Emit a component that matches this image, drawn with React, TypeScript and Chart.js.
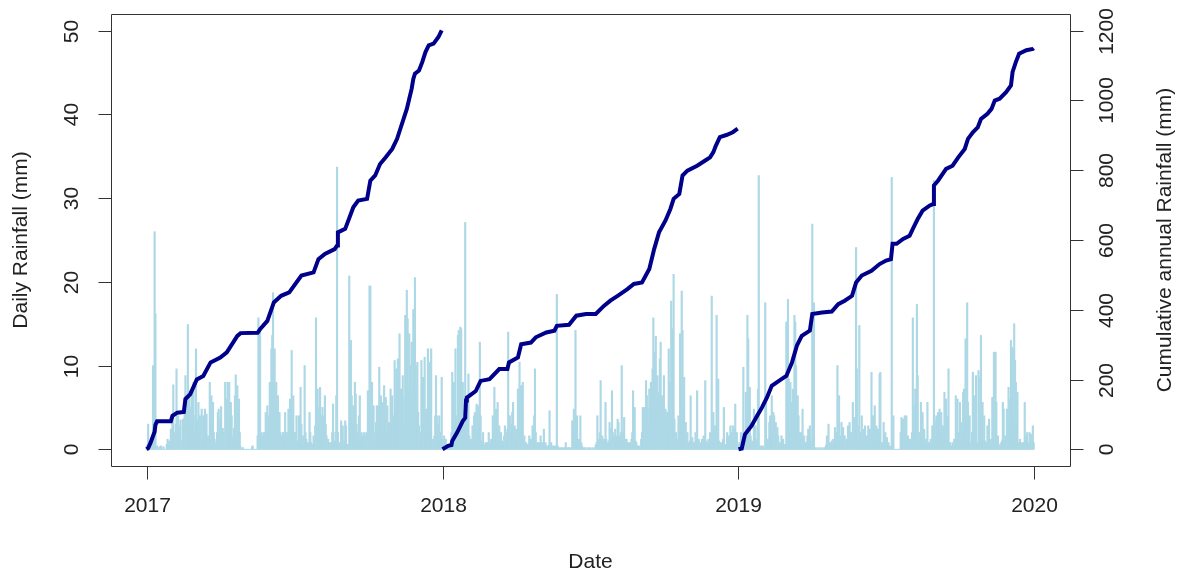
import React, { useEffect, useRef } from "react";
import { Chart, registerables } from "chart.js";

Chart.register(...registerables);

// Daily rainfall (mm), one value per day, Jan 1 .. Dec 31
const rain2017 = [
  0.3,0.5,3.0,0,0.2,0,0.4,1.2,10.0,0,26.0,16.2,0,0.4,0,0,0.3,0,0.4,0,0,0.3,0,0,0,0.6,1.2,0.5,1.0,0,2.4,
  0.8,3.5,7.7,2.0,1.2,3.0,9.6,2.5,4.0,1.5,2.8,3.5,1.0,0.5,3.6,3.6,6.0,8.8,5.5,3.2,14.9,4.0,7.0,2.5,5.0,7.2,3.0,8.0,
  2.0,4.0,12.0,2.0,3.5,5.6,1.5,4.0,2.0,4.8,1.0,4.0,2.5,4.8,1.0,4.2,0.8,1.6,0.5,8.0,3.0,6.4,1.5,5.6,2.0,1.2,0.5,0.8,2.0,4.4,4.8,
  1.0,3.6,5.1,0.8,2.5,2.0,0.5,8.0,6.0,1.0,8.0,4.0,8.0,2.0,5.6,4.0,0.8,1.6,2.5,6.4,8.9,1.0,7.6,2.0,6.0,2.0,0.3,0,0,0.2,
  0,0,0,0,0,0,0,0,0,0,0.3,0.4,0,0,0,0,0,1.6,15.7,10.4,14.0,1.0,2.0,1.6,0.5,2.0,1.0,4.4,2.0,5.2,4.0,
  2.5,8.0,3.0,12.0,13.6,18.7,10.0,12.0,5.0,8.0,3.0,6.4,1.0,4.4,2.0,1.6,0.5,2.0,1.0,2.0,4.4,1.0,2.0,0.8,4.8,2.0,6.0,1.0,11.8,3.0,
  6.4,1.0,2.0,0.5,4.0,1.0,0.8,4.0,2.5,7.4,3.0,1.0,1.6,0.5,10.0,2.0,1.2,0.5,0.8,0.4,4.4,2.0,0.8,0.6,0.3,1.6,0.8,2.8,15.7,4.0,7.2,
  3.0,5.0,7.4,4.0,2.0,5.0,4.0,1.5,6.4,3.0,1.6,0.8,1.2,0.5,0.8,0.3,0.8,2.0,5.4,1.0,0.8,2.0,6.4,33.7,2.0,0.8,0.5,0.8,3.4,1.0,2.8,
  0.5,1.0,3.4,2.8,0.5,0.6,0,20.7,5.0,13.0,6.4,3.0,5.2,4.0,8.0,6.6,3.0,1.0,2.0,4.0,6.4,1.0,2.0,1.6,1.0,2.0,1.6,0.8,2.0,1.0,
  7.0,3.0,19.5,19.5,4.0,8.0,2.0,5.2,1.0,2.0,3.2,5.2,2.0,5.2,9.8,2.0,6.4,3.0,5.6,2.0,7.6,3.0,6.2,2.0,5.2,1.0,3.2,2.0,7.2,3.0,6.4,
  4.0,2.0,10.6,5.0,9.6,4.0,10.8,6.0,13.8,3.0,7.2,5.0,8.8,6.0,3.0,16.0,9.0,19.0,15.6,7.0,13.8,5.0,10.0,12.8,6.0,16.7,8.4,20.5,10.0,4.0,
  10.4,4.4,2.8,1.0,2.0,10.6,5.0,8.6,3.0,11.0,2.5,4.8,1.0,12.0,4.0,10.4,2.0,12.0,1.0,1.2,0.5,1.6,4.0,8.8,4.0,2.0,3.0,4.0,2.0,1.0,8.6,
];

const rain2018 = [
  1.2,0.8,1.6,0.5,1.2,0.3,0.4,0.2,0.4,0.3,0.4,2.0,9.2,3.0,8.0,2.0,12.0,4.0,1.2,13.6,14.2,8.0,14.6,14.4,6.0,8.0,3.0,2.6,27.1,5.0,4.0,
  1.0,9.0,1.6,0.5,1.2,0.6,2.8,1.0,4.0,4.4,1.5,5.4,2.0,5.2,3.0,12.8,4.0,1.0,0.8,2.0,0.5,0.4,0.8,0.3,0.8,0.4,2.0,0.5,
  0.8,1.2,0.5,4.0,2.0,7.4,2.5,4.8,1.5,5.6,1.0,2.8,0.5,2.0,0.4,1.0,0.6,1.6,2.8,2.0,1.0,2.4,14.0,2.0,4.0,1.5,3.0,4.4,5.6,1.0,2.8,
  1.0,2.4,0.8,7.2,3.0,10.4,3.0,7.6,2.0,8.0,1.0,1.6,0.4,0.8,0.2,0.6,0.3,1.6,0.5,1.2,0.4,2.8,1.0,4.0,9.6,2.0,0.5,0.8,0.3,0.8,
  0.4,1.6,0.3,0.8,0.5,2.4,0.4,0.8,0.2,0.4,0.3,0.5,4.6,0.5,0.8,0.4,0.2,0.4,0.3,0.4,0.2,18.5,0.4,0,0.2,0,0.2,0,0.2,0,0.2,
  0,0.8,0,0.2,0,0.2,0,0.2,0,3.4,1.0,4.8,2.0,14.2,1.5,4.0,0.5,1.2,0.4,4.0,0.8,0.4,0,0.2,0,0.2,0,0,0.2,0,
  0,0.2,0,0,0.2,0,0,0.2,0.5,0.8,4.0,1.2,0.5,2.0,8.2,0.8,1.6,0.5,1.2,0.8,5.6,1.2,0.4,0.8,1.0,3.2,1.0,2.5,7.0,2.0,0.8,
  1.6,2.4,1.6,0.8,3.6,3.2,1.0,1.6,2.0,10.0,2.0,1.0,3.8,1.2,0.8,1.2,0.8,0.4,0.8,0.5,0.8,1.2,2.0,7.0,2.0,5.0,1.0,0.8,0.3,0.4,0.2,
  0.4,0.2,1.2,2.0,5.0,3.0,5.0,4.0,8.2,6.4,5.0,3.0,7.2,5.0,8.0,6.0,9.6,15.7,8.0,11.6,13.5,6.0,8.8,5.0,6.8,10.8,12.8,4.0,6.4,3.0,
  8.8,3.0,4.8,2.0,4.4,3.0,12.0,8.0,4.0,17.7,6.0,14.4,20.9,3.6,1.0,2.0,1.2,0.8,4.0,2.0,13.8,6.0,18.9,14.2,5.0,8.6,2.0,3.2,1.0,2.0,0.8,
  0.4,1.0,6.4,0.8,1.4,0.4,0.8,0.5,2.0,0.8,7.0,0.5,1.2,0.4,0.8,0.4,1.2,0.5,1.6,0.8,8.2,1.0,0.8,0.4,1.2,0.5,2.0,1.0,18.3,2.0,
  4.4,1.0,2.8,0.8,16.0,2.0,8.4,1.0,0.8,0.3,0.8,0.4,1.2,5.0,0.5,0.6,0.4,2.0,0.5,1.6,0.8,2.8,1.0,2.0,2.8,1.0,2.4,5.4,1.0,2.0,0.5,
];

const rain2019 = [
  0.2,0.8,0.4,2.0,0.8,0.5,9.8,1.0,0.5,6.8,2.0,16.0,13.2,3.0,7.4,1.6,0.5,1.0,0.4,4.8,1.0,2.8,1.2,0.5,7.2,32.7,0.4,0,0.4,0,0.4,
  0,0.2,17.5,6.4,1.0,1.2,0.5,3.2,4.0,1.5,6.4,2.0,4.4,4.0,1.0,3.2,1.5,2.6,1.6,0.5,0.8,0.3,1.6,0.5,1.2,0.4,0.6,0.3,
  15.2,3.0,17.9,8.4,2.0,8.0,3.0,5.6,7.2,2.0,16.0,15.2,10.0,2.0,6.4,4.0,1.0,2.0,0.5,2.0,4.8,0.5,1.6,0.4,0.8,0.5,1.6,2.4,0.8,2.8,1.2,
  0.5,26.9,1.0,17.5,0.2,0,0.2,0,0,0.2,0,0,0.2,0,0,0.2,0,0.2,0.5,1.6,0.4,3.0,0.5,0.8,0.3,1.0,0.5,1.2,0.6,2.6,
  0.8,2.0,10.0,1.5,6.4,0.8,1.6,3.2,0.8,2.6,0.5,1.6,0.4,1.2,0.8,2.8,1.0,3.2,0.8,2.0,1.0,5.6,1.2,3.8,1.0,24.1,9.6,2.8,1.0,14.8,2.0,
  1.0,4.0,0.8,2.4,1.0,2.8,0.5,1.6,0.8,2.8,1.0,2.4,1.0,9.2,2.0,4.0,1.0,5.2,1.2,2.8,0.8,2.4,1.0,9.0,9.2,0.8,0.4,0.8,3.2,0.8,
  2.0,0.5,1.4,0.3,0.8,0.2,0.4,0.2,32.5,1.0,4.0,0,0,0,0,0,0,0,0,2.0,3.8,1.5,3.6,2.0,4.0,1.0,4.0,0.8,1.6,0.5,1.2,
  0.5,1.2,2.0,15.7,2.0,5.2,7.2,3.0,17.3,8.8,1.0,2.0,1.0,5.6,1.5,4.4,1.0,2.4,0.5,1.2,0.5,5.6,0.8,0.8,0.3,1.2,0.5,2.8,1.0,32.1,3.4,
  1.0,4.0,1.5,4.4,1.0,4.8,2.0,4.4,1.0,2.8,1.2,6.8,2.0,6.0,1.0,4.0,9.6,0.5,0.8,0.4,0.3,0.8,0.4,1.2,0.5,6.4,2.0,6.0,2.0,1.0,
  5.6,1.0,3.2,1.5,6.8,7.2,2.0,13.2,4.0,17.5,5.6,1.0,4.0,0.5,0.8,2.0,9.2,1.0,6.4,2.0,8.8,0.8,0.4,9.4,2.0,8.6,13.6,3.0,5.6,1.0,4.0,
  1.0,0.8,0.4,2.8,1.0,3.6,1.0,1.2,0.5,6.2,2.0,11.6,3.0,11.6,5.6,1.0,1.6,0.6,0.3,0.4,0.8,1.0,5.6,4.8,1.0,1.6,0.5,4.8,2.0,7.4,
  3.0,6.0,13.0,12.2,12.0,4.0,15.0,10.6,8.0,3.0,6.8,0.8,0.4,1.2,0.4,0.8,0.3,0.8,0.5,5.6,1.0,1.6,2.0,0.5,0.8,2.0,0.5,1.8,1.0,2.8,0.8,
];

// Cumulative annual rainfall (mm), read at day-of-year
const cumDays2017 = [0,2,5,8,10,11,13,30,32,38,46,48,54,62,70,79,91,99,112,116,137,140,149,157,166,176,191,206,212,220,232,235,236,245,255,261,272,276,282,288,295,303,309,313,317,321,324,327,329,331,336,340,344,348,354,360,364];
const cumMm2017 = [0,3,19,38,50,70,80,80,96,105,107,144,158,200,210,249,263,278,325,333,334,344,368,421,440,450,498,507,545,560,574,584,622,632,694,713,718,770,785,818,837,861,890,919,947,976,1005,1034,1062,1077,1086,1110,1139,1158,1163,1182,1201];

const cumDays2018 = [0,7,11,12,18,25,28,29,30,33,41,47,58,70,80,82,93,97,109,115,128,138,141,156,165,177,189,199,207,216,228,236,246,255,261,267,275,281,285,292,296,302,314,324,330,334,337,342,350,358,364];
const cumMm2018 = [0,10,12,24,48,81,90,140,148,153,167,196,201,230,230,249,263,301,306,321,335,340,354,357,383,388,388,411,426,440,459,474,478,517,574,622,656,689,718,732,785,799,813,828,837,852,870,895,901,909,919];

const cumDays2019 = [0,4,8,16,23,29,35,41,53,59,66,72,78,88,91,103,115,123,131,140,145,152,164,174,182,188,190,195,203,211,215,221,227,236,240,241,246,256,264,271,279,283,289,295,299,307,312,316,322,330,336,338,342,346,355,363,364];
const cumMm2019 = [0,2,43,67,96,120,148,182,201,210,249,297,325,340,388,392,395,416,426,440,478,498,512,531,541,545,589,589,603,612,632,660,684,699,703,756,770,804,813,837,861,890,909,923,947,962,976,1000,1005,1024,1043,1082,1110,1134,1144,1148,1150];

const yearStarts = [0, 365, 730];
const xTickDays = [0, 365, 730, 1095];
const xTickLabels = ["2017", "2018", "2019", "2020"];
const leftTicks = [0, 10, 20, 30, 40, 50];
const rightTicks = [0, 200, 400, 600, 800, 1000, 1200];

const FONT = '21px "Liberation Sans", Arial, sans-serif';
const TEXT = "#222";

const rAxesPlugin = {
  id: "rAxes",
  afterDraw(chart: any) {
    const { ctx, chartArea: a, scales } = chart;
    const sx = scales.x, sy = scales.y, sy2 = scales.y2;
    const L = Math.round(a.left) + 0.5, R = Math.round(a.right) + 0.5;
    const T = Math.round(a.top) + 0.5, B = Math.round(a.bottom) + 0.5;
    const tick = 13;
    ctx.save();
    ctx.strokeStyle = "#333";
    ctx.lineWidth = 1;
    ctx.beginPath();
    ctx.rect(L, T, R - L, B - T);
    ctx.stroke();
    ctx.fillStyle = TEXT;
    ctx.font = FONT;
    ctx.textAlign = "center";
    ctx.textBaseline = "middle";
    xTickDays.forEach((d, i) => {
      const x = Math.round(sx.getPixelForValue(d)) + 0.5;
      ctx.beginPath();
      ctx.moveTo(x, B);
      ctx.lineTo(x, B + tick);
      ctx.stroke();
      ctx.fillText(xTickLabels[i], x, 506);
    });
    leftTicks.forEach((v) => {
      const y = Math.round(sy.getPixelForValue(v)) + 0.5;
      ctx.beginPath();
      ctx.moveTo(L, y);
      ctx.lineTo(L - tick, y);
      ctx.stroke();
      ctx.save();
      ctx.translate(72, y);
      ctx.rotate(-Math.PI / 2);
      ctx.fillText(String(v), 0, 0);
      ctx.restore();
    });
    rightTicks.forEach((v) => {
      const y = Math.round(sy2.getPixelForValue(v)) + 0.5;
      ctx.beginPath();
      ctx.moveTo(R, y);
      ctx.lineTo(R + tick, y);
      ctx.stroke();
      ctx.save();
      ctx.translate(1107, y);
      ctx.rotate(-Math.PI / 2);
      ctx.fillText(String(v), 0, 0);
      ctx.restore();
    });
    const midY = (a.top + a.bottom) / 2;
    const midX = (a.left + a.right) / 2;
    ctx.fillText("Date", midX, 562);
    ctx.save();
    ctx.translate(21, midY);
    ctx.rotate(-Math.PI / 2);
    ctx.fillText("Daily Rainfall (mm)", 0, 0);
    ctx.restore();
    ctx.save();
    ctx.translate(1165, midY);
    ctx.rotate(-Math.PI / 2);
    ctx.fillText("Cumulative annual Rainfall (mm)", 0, 0);
    ctx.restore();
    ctx.restore();
  },
};

export default function App() {
  const ref = useRef<HTMLCanvasElement | null>(null);

  useEffect(() => {
    if (!ref.current) return;
    const rainYears = [rain2017, rain2018, rain2019];
    const barData: { x: number; y: number }[] = [];
    rainYears.forEach((arr, k) => {
      arr.forEach((v, i) => barData.push({ x: yearStarts[k] + i, y: v }));
    });
    const cumSets = [
      [cumDays2017, cumMm2017],
      [cumDays2018, cumMm2018],
      [cumDays2019, cumMm2019],
    ];
    const lineSets = cumSets.map(([days, mm], k) => ({
      type: "line" as const,
      data: days.map((d, i) => ({ x: yearStarts[k] + d, y: mm[i] })),
      yAxisID: "y2",
      xAxisID: "x",
      borderColor: "#00008B",
      borderWidth: 4,
      pointRadius: 0,
      tension: 0,
      fill: false,
      order: 0,
    }));

    const chart = new Chart(ref.current, {
      type: "bar",
      data: {
        datasets: [
          {
            type: "bar",
            data: barData,
            backgroundColor: "#ADD8E6",
            borderWidth: 0,
            barThickness: 1.5,
            yAxisID: "y",
            xAxisID: "x",
            order: 1,
          } as any,
          ...lineSets,
        ],
      },
      options: {
        responsive: false,
        animation: false,
        devicePixelRatio: 1,
        layout: { padding: { left: 111, top: 14, right: 115, bottom: 113 } },
        plugins: { legend: { display: false }, tooltip: { enabled: false } },
        events: [],
        scales: {
          x: { type: "linear", min: -43.8, max: 1138.8, display: false, offset: false },
          y: { type: "linear", position: "left", min: -2, max: 52, display: false },
          y2: { type: "linear", position: "right", min: -48, max: 1248, display: false },
        },
      },
      plugins: [rAxesPlugin],
    });
    return () => chart.destroy();
  }, []);

  return (
    <div style={{ position: "fixed", left: 0, top: 0, width: 1185, height: 579, background: "#fff" }}>
      <canvas ref={ref} width={1185} height={579} style={{ display: "block" }} />
    </div>
  );
}
